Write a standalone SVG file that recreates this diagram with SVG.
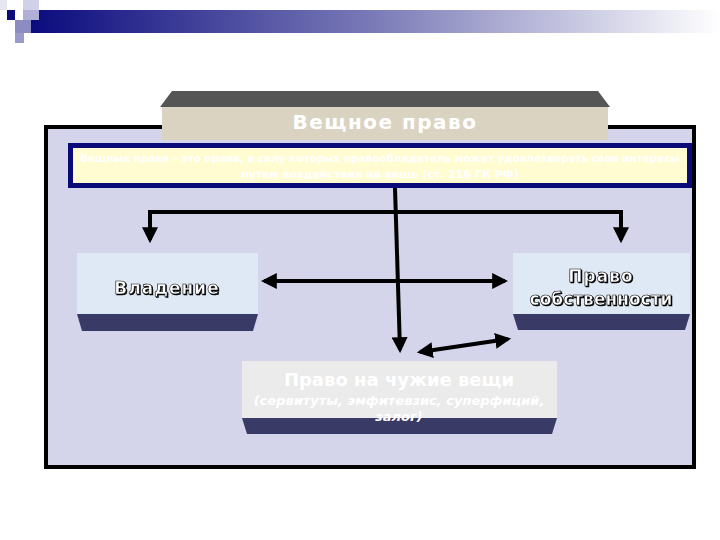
<svg xmlns="http://www.w3.org/2000/svg" width="720" height="540" viewBox="0 0 720 540">
<defs>
<linearGradient id="bar" x1="0" y1="0" x2="1" y2="0">
<stop offset="0" stop-color="#0b0b7e"/>
<stop offset="0.5" stop-color="#7b7bb8"/>
<stop offset="1" stop-color="#ffffff"/>
</linearGradient>
<marker id="ah" viewBox="0 0 10 10" refX="8" refY="5" markerWidth="4" markerHeight="4" orient="auto-start-reverse" markerUnits="strokeWidth">
<path d="M0,0 L10,5 L0,10 z" fill="#000"/>
</marker>
<filter id="shadow" x="-5%" y="-20%" width="110%" height="140%">
<feOffset in="SourceAlpha" dx="1.2" dy="1.2" result="o"/>
<feMerge><feMergeNode in="o"/><feMergeNode in="SourceGraphic"/></feMerge>
</filter>
</defs>
<style>
.lbl{font-family:"DejaVu Sans","Noto Sans",sans-serif;font-weight:bold;fill:#fff;text-anchor:middle}
.sh{filter:url(#shadow);stroke:#000;stroke-width:0.6}
.conn{stroke:#000;stroke-width:4;fill:none}
.side{fill:#3a3a66}
</style>
<rect width="720" height="540" fill="#fff"/>
<g id="banner">
<rect x="31" y="10" width="689" height="23" fill="url(#bar)"/>
<rect x="7" y="10" width="8" height="10" fill="#0b0b7e"/>
<rect x="23" y="0" width="16" height="10" fill="#d0d0e8"/>
<rect x="23" y="10" width="16" height="10" fill="#b0b0d6"/>
<rect x="15" y="20" width="16" height="13" fill="#8c8cc2"/>
<rect x="15" y="33" width="9" height="10" fill="#9a9acb"/>
<rect x="0" y="0" width="7" height="10" fill="#e6e6f2"/>
</g>
<g id="frame">
<rect x="46" y="127" width="648" height="340" fill="#d4d4ea" stroke="#000" stroke-width="4"/>
</g>
<g id="header">
<polygon points="172,91 598,91 610,107 160,107" fill="#555"/>
<rect x="162" y="107" width="446" height="33" fill="#dbd3c2"/>
<text x="385" y="129" class="lbl" font-size="20" letter-spacing="1.5">Вещное право</text>
</g>
<g id="definition">
<rect x="70.5" y="145.5" width="619" height="40" fill="#fffcd2" stroke="#0a0a78" stroke-width="5"/>
<text x="380" y="162" class="lbl" font-size="11" font-weight="normal" textLength="600" lengthAdjust="spacingAndGlyphs">Вещные права – это права, в силу которых правообладатель может удовлетворять свои интересы</text>
<text x="380" y="178" class="lbl" font-size="11" font-weight="normal">путем воздействия на вещь (ст. 216 ГК РФ)</text>
</g>
<g id="connectors">
<line class="conn" x1="395" y1="188" x2="400" y2="350" marker-end="url(#ah)"/>
<polyline class="conn" points="150,240 150,212 621,212 621,240" marker-start="url(#ah)" marker-end="url(#ah)"/>
<line class="conn" x1="264" y1="281" x2="505" y2="281" marker-start="url(#ah)" marker-end="url(#ah)"/>
<line class="conn" x1="420" y1="352" x2="508" y2="339" marker-start="url(#ah)" marker-end="url(#ah)"/>
</g>
<g id="vladenie">
<polygon class="side" points="77,314 258,314 253,331 82,331"/>
<rect x="77" y="253" width="181" height="61" fill="#dfe9f6"/>
<text x="167" y="294" class="lbl sh" font-size="17" letter-spacing="1">Владение</text>
</g>
<g id="sobstvennost">
<polygon class="side" points="513,314 690,314 685,330 518,330"/>
<rect x="513" y="253" width="177" height="61" fill="#dfe9f6"/>
<text x="601" y="282" class="lbl sh" font-size="17" letter-spacing="1">Право</text>
<text x="601" y="305" class="lbl sh" font-size="17">собственности</text>
</g>
<g id="chuzhie">
<polygon class="side" points="242,418 557,418 552,434 247,434"/>
<rect x="242" y="361" width="315" height="57" fill="#ebebeb"/>
<text x="399" y="386" class="lbl" font-size="18" font-weight="normal">Право на чужие вещи</text>
<text x="399" y="405" class="lbl" font-size="13" font-style="italic">(сервитуты, эмфитевзис, суперфиций,</text>
<text x="399" y="421" class="lbl" font-size="13" font-style="italic">залог)</text>
</g>
</svg>
